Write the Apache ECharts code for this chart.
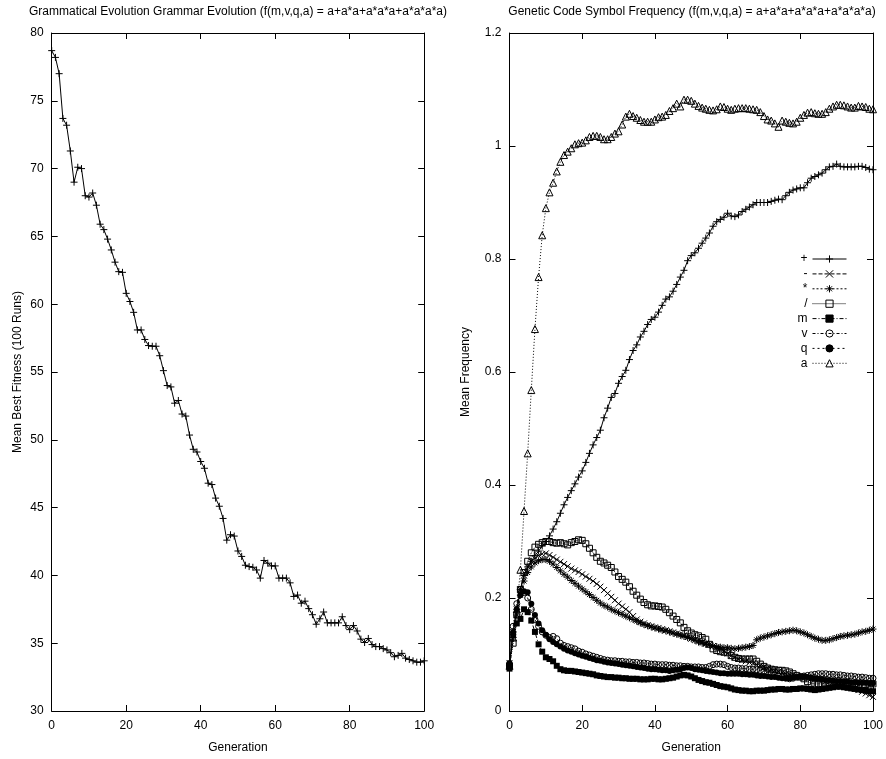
<!DOCTYPE html>
<html>
<head>
<meta charset="utf-8">
<script src="https://cdn.jsdelivr.net/npm/echarts@6/dist/echarts.min.js"></script>
<style>
html,body{margin:0;padding:0;background:#fff;}
#chart{width:886px;height:759px;}
</style>
</head>
<body>
<div id="chart"></div>
<script>
// ---------- DATA ----------
const generations = Array.from({length: 101}, (_, i) => i);

const leftTitle = 'Grammatical Evolution Grammar Evolution (f(m,v,q,a) = a+a*a+a*a*a+a*a*a*a)';
const rightTitle = 'Genetic Code Symbol Frequency (f(m,v,q,a) = a+a*a+a*a*a+a*a*a*a)';

const meanBestFitness = [
 78.7,78.2,77.0,73.7,73.2,71.3,69.0,70.1,70.0,68.0,
 67.9,68.2,67.3,65.9,65.5,64.8,64.0,63.1,62.4,62.35,
 60.8,60.2,59.4,58.1,58.1,57.4,56.95,56.9,56.9,56.2,
 55.1,54.0,53.9,52.7,52.9,51.9,51.75,50.35,49.3,49.1,
 48.4,47.9,46.8,46.7,45.7,45.1,44.2,42.6,43.0,42.9,
 41.8,41.4,40.75,40.65,40.6,40.4,39.8,41.1,40.9,40.7,
 40.7,39.8,39.8,39.8,39.45,38.45,38.55,37.95,38.1,37.55,
 37.1,36.4,36.8,37.3,36.5,36.5,36.5,36.5,36.95,36.3,
 36.0,36.3,35.9,35.3,35.05,35.35,34.9,34.75,34.75,34.6,
 34.5,34.3,34.0,34.1,34.25,33.9,33.8,33.7,33.6,33.6,
 33.7
];

const freqPlus = [
 0.08,0.14,0.18,0.215,0.24,0.255,0.265,0.275,0.283,0.292,
 0.300,0.31,0.322,0.335,0.35,0.365,0.378,0.39,0.402,0.414,
 0.425,0.44,0.456,0.471,0.484,0.497,0.519,0.536,0.555,0.562,
 0.58,0.592,0.603,0.622,0.638,0.648,0.662,0.672,0.684,0.693,
 0.697,0.706,0.718,0.729,0.733,0.743,0.755,0.768,0.78,0.797,
 0.806,0.811,0.819,0.828,0.837,0.846,0.858,0.866,0.87,0.874,
 0.881,0.876,0.875,0.878,0.884,0.888,0.892,0.896,0.9,0.9,
 0.9,0.9,0.902,0.904,0.906,0.905,0.912,0.918,0.922,0.924,
 0.926,0.926,0.935,0.943,0.946,0.949,0.952,0.958,0.963,0.964,
 0.968,0.964,0.963,0.963,0.963,0.963,0.964,0.964,0.962,0.959,
 0.958
];

const freqMinus = [
 0.085,0.14,0.18,0.215,0.24,0.255,0.265,0.27,0.275,0.278,
 0.279,0.276,0.272,0.268,0.264,0.26,0.256,0.252,0.249,0.246,
 0.242,0.238,0.234,0.23,0.225,0.22,0.214,0.208,0.202,0.196,
 0.19,0.185,0.18,0.175,0.168,0.162,0.158,0.155,0.152,0.15,
 0.148,0.147,0.145,0.143,0.141,0.139,0.137,0.136,0.134,0.131,
 0.128,0.126,0.124,0.122,0.12,0.118,0.115,0.112,0.11,0.106,
 0.102,0.098,0.095,0.092,0.09,0.088,0.086,0.084,0.082,0.08,
 0.078,0.076,0.074,0.072,0.07,0.068,0.066,0.065,0.064,0.062,
 0.06,0.059,0.058,0.057,0.056,0.055,0.054,0.053,0.052,0.051,
 0.05,0.048,0.046,0.044,0.042,0.04,0.037,0.034,0.031,0.028,
 0.025
];

const freqStar = [
 0.08,0.13,0.17,0.205,0.23,0.245,0.255,0.262,0.266,0.268,
 0.268,0.265,0.26,0.254,0.248,0.242,0.237,0.231,0.226,0.221,
 0.216,0.211,0.206,0.201,0.196,0.191,0.187,0.184,0.18,0.177,
 0.174,0.171,0.168,0.165,0.162,0.159,0.156,0.153,0.151,0.149,
 0.147,0.145,0.143,0.142,0.14,0.138,0.136,0.134,0.132,0.13,
 0.128,0.125,0.122,0.12,0.118,0.117,0.115,0.114,0.113,0.112,
 0.112,0.111,0.11,0.111,0.112,0.113,0.114,0.116,0.126,0.129,
 0.131,0.133,0.135,0.137,0.139,0.14,0.141,0.142,0.143,0.142,
 0.14,0.138,0.135,0.132,0.129,0.127,0.125,0.125,0.126,0.128,
 0.13,0.132,0.133,0.134,0.135,0.136,0.138,0.14,0.141,0.143,
 0.145
];

const freqSlash = [
 0.08,0.12,0.17,0.215,0.245,0.265,0.28,0.29,0.295,0.298,
 0.3,0.3,0.298,0.297,0.298,0.296,0.294,0.298,0.3,0.303,
 0.302,0.296,0.288,0.28,0.272,0.265,0.262,0.258,0.254,0.246,
 0.238,0.233,0.228,0.22,0.212,0.205,0.198,0.192,0.188,0.186,
 0.186,0.185,0.184,0.18,0.174,0.168,0.162,0.156,0.148,0.142,
 0.138,0.135,0.133,0.13,0.127,0.118,0.11,0.107,0.105,0.104,
 0.103,0.098,0.095,0.093,0.092,0.092,0.092,0.092,0.088,0.083,
 0.079,0.076,0.074,0.073,0.072,0.072,0.071,0.069,0.066,0.063,
 0.06,0.057,0.052,0.049,0.048,0.048,0.048,0.048,0.048,0.048,
 0.048,0.047,0.047,0.046,0.046,0.046,0.045,0.046,0.047,0.048,
 0.048
];

const freqM = [
 0.075,0.135,0.155,0.163,0.18,0.175,0.16,0.14,0.118,0.105,
 0.095,0.092,0.088,0.08,0.074,0.072,0.071,0.071,0.07,0.069,
 0.068,0.067,0.066,0.065,0.063,0.062,0.061,0.06,0.06,0.059,
 0.059,0.058,0.058,0.057,0.057,0.057,0.056,0.056,0.056,0.057,
 0.057,0.056,0.056,0.057,0.058,0.059,0.061,0.063,0.064,0.063,
 0.061,0.058,0.055,0.053,0.051,0.05,0.048,0.046,0.044,0.043,
 0.042,0.04,0.038,0.037,0.036,0.036,0.035,0.035,0.036,0.036,
 0.036,0.037,0.038,0.038,0.039,0.039,0.038,0.038,0.039,0.039,
 0.04,0.04,0.039,0.038,0.037,0.038,0.039,0.04,0.041,0.042,
 0.043,0.043,0.042,0.041,0.04,0.039,0.038,0.037,0.036,0.035,
 0.035
];

const freqV = [
 0.08,0.15,0.19,0.215,0.21,0.2,0.18,0.162,0.15,0.14,
 0.134,0.13,0.132,0.128,0.12,0.116,0.114,0.112,0.11,0.106,
 0.104,0.101,0.099,0.097,0.095,0.093,0.091,0.09,0.089,0.089,
 0.088,0.088,0.087,0.087,0.086,0.086,0.085,0.085,0.084,0.083,
 0.083,0.082,0.082,0.082,0.081,0.081,0.08,0.08,0.079,0.079,
 0.078,0.078,0.078,0.077,0.077,0.079,0.082,0.083,0.083,0.082,
 0.079,0.077,0.076,0.076,0.075,0.075,0.074,0.074,0.073,0.072,
 0.07,0.068,0.066,0.064,0.062,0.06,0.058,0.057,0.058,0.06,
 0.061,0.062,0.063,0.064,0.065,0.066,0.066,0.066,0.065,0.065,
 0.064,0.064,0.063,0.062,0.062,0.061,0.06,0.06,0.059,0.058,
 0.058
];

const freqQ = [
 0.085,0.14,0.18,0.205,0.212,0.21,0.19,0.17,0.155,0.143,
 0.135,0.127,0.122,0.118,0.114,0.11,0.107,0.105,0.102,0.1,
 0.098,0.096,0.094,0.092,0.09,0.089,0.087,0.086,0.085,0.084,
 0.083,0.082,0.081,0.08,0.079,0.078,0.077,0.076,0.075,0.074,
 0.074,0.073,0.072,0.072,0.071,0.072,0.073,0.074,0.076,0.077,
 0.076,0.074,0.073,0.072,0.071,0.07,0.069,0.068,0.067,0.067,
 0.066,0.066,0.066,0.066,0.065,0.065,0.064,0.064,0.063,0.062,
 0.062,0.061,0.06,0.06,0.059,0.058,0.058,0.058,0.059,0.06,
 0.061,0.061,0.06,0.059,0.058,0.057,0.056,0.055,0.055,0.054,
 0.053,0.053,0.052,0.052,0.051,0.051,0.05,0.05,0.05,0.049,
 0.049
];

const freqA = [
 0.08,0.13,0.18,0.25,0.354,0.456,0.568,0.676,0.768,0.842,
 0.89,0.918,0.935,0.955,0.972,0.984,0.99,0.996,1.003,1.005,
 1.006,1.01,1.016,1.018,1.018,1.016,1.012,1.012,1.016,1.022,
 1.026,1.038,1.052,1.057,1.053,1.05,1.046,1.043,1.043,1.043,
 1.047,1.051,1.052,1.055,1.062,1.067,1.075,1.07,1.082,1.082,
 1.08,1.075,1.071,1.068,1.066,1.064,1.063,1.065,1.07,1.069,
 1.066,1.064,1.066,1.067,1.067,1.067,1.066,1.065,1.064,1.06,
 1.053,1.047,1.045,1.04,1.034,1.045,1.043,1.041,1.04,1.043,
 1.05,1.055,1.059,1.06,1.058,1.057,1.057,1.06,1.066,1.07,
 1.073,1.073,1.072,1.07,1.068,1.068,1.071,1.07,1.069,1.066,
 1.065
];

const symbolNames = ['+', '-', '*', '/', 'm', 'v', 'q', 'a'];
const symbolSeries = [freqPlus, freqMinus, freqStar, freqSlash, freqM, freqV, freqQ, freqA];

const fitnessTicks = {min: 30, max: 80, interval: 5};
const freqTicks = {min: 0, max: 1.2, interval: 0.2};
const genTicks = {min: 0, max: 100, interval: 20};

// ---------- STYLES ----------
const FONT = "'Liberation Sans', Arial, Helvetica, sans-serif";
const BLACK = '#000';
const PLUS = 'path://M5,0 L5,10 M0,5 L10,5';
const CROSS = 'path://M0,0 L10,10 M10,0 L0,10';
const STAR = 'path://M5,0 L5,10 M0,5 L10,5 M1.5,1.5 L8.5,8.5 M8.5,1.5 L1.5,8.5';
const SQUARE = 'path://M0,0 L10,0 L10,10 L0,10 Z';
const CIRCLE = 'path://M10,5 A5,5 0 1,1 0,5 A5,5 0 1,1 10,5 Z';
const TRIANGLE = 'path://M5,0 L10,9 L0,9 Z';
const CLEAR = 'rgba(0,0,0,0)';

const markStyles = [
  {symbol: PLUS, size: 7, fill: CLEAR, dash: 'solid'},
  {symbol: CROSS, size: 6, fill: CLEAR, dash: [4, 2]},
  {symbol: STAR, size: 7, fill: CLEAR, dash: [2, 2]},
  {symbol: SQUARE, size: 6, fill: CLEAR, dash: [1, 1]},
  {symbol: 'rect', size: 6, fill: BLACK, dash: [4, 2, 1, 2]},
  {symbol: CIRCLE, size: 6, fill: CLEAR, dash: [3, 2, 1, 2]},
  {symbol: 'circle', size: 6, fill: BLACK, dash: [2, 3]},
  {symbol: TRIANGLE, size: 7, fill: CLEAR, dash: [1, 2]}
];

function axisCommon(extra) {
  return Object.assign({
    type: 'value',
    axisLine: {show: true, onZero: false, lineStyle: {color: BLACK, width: 1}},
    axisTick: {show: true, inside: true, length: 6, lineStyle: {color: BLACK, width: 1}},
    splitLine: {show: false},
    axisLabel: {color: BLACK, fontSize: 12, fontFamily: FONT, margin: 8},
    nameTextStyle: {color: BLACK, fontSize: 12, fontFamily: FONT}
  }, extra);
}

const chart = echarts.init(document.getElementById('chart'), null, {renderer: 'canvas'});

const series = [];
series.push({
  name: 'Mean Best Fitness',
  type: 'line',
  xAxisIndex: 0, yAxisIndex: 0,
  data: generations.map((g, i) => [g, meanBestFitness[i]]),
  symbol: PLUS, symbolSize: 7,
  itemStyle: {color: CLEAR, borderColor: BLACK, borderWidth: 1},
  lineStyle: {color: BLACK, width: 1},
  z: 3
});
symbolNames.forEach((name, k) => {
  const st = markStyles[k];
  series.push({
    name: name,
    type: 'line',
    xAxisIndex: 2, yAxisIndex: 2,
    data: generations.map((g, i) => [g, symbolSeries[k][i]]),
    symbol: st.symbol, symbolSize: st.size,
    itemStyle: {color: st.fill, borderColor: BLACK, borderWidth: st.fill === BLACK ? 0 : 1},
    lineStyle: {color: BLACK, width: 1, type: st.dash},
    z: 3 + k
  });
});

const option = {
  animation: false,
  backgroundColor: '#fff',
  textStyle: {fontFamily: FONT},
  title: [
    {text: leftTitle, left: 238, top: 6, padding: 0, textAlign: 'center',
     textStyle: {fontSize: 12, fontWeight: 'normal', color: BLACK, fontFamily: FONT}},
    {text: rightTitle, left: 692, top: 6, padding: 0, textAlign: 'center',
     textStyle: {fontSize: 12, fontWeight: 'normal', color: BLACK, fontFamily: FONT}}
  ],
  grid: [
    {left: 51.7, top: 33, width: 372.5, height: 679},
    {left: 509.5, top: 33, width: 365, height: 679}
  ],
  xAxis: [
    axisCommon({gridIndex: 0, position: 'bottom', min: genTicks.min, max: genTicks.max, interval: genTicks.interval,
      name: 'Generation', nameLocation: 'middle', nameGap: 31,
      axisLabel: {color: BLACK, fontSize: 12, fontFamily: FONT, margin: 9}}),
    axisCommon({gridIndex: 0, position: 'top', min: genTicks.min, max: genTicks.max, interval: genTicks.interval,
      axisLabel: {show: false}}),
    axisCommon({gridIndex: 1, position: 'bottom', min: genTicks.min, max: genTicks.max, interval: genTicks.interval,
      name: 'Generation', nameLocation: 'middle', nameGap: 31,
      axisLabel: {color: BLACK, fontSize: 12, fontFamily: FONT, margin: 9}}),
    axisCommon({gridIndex: 1, position: 'top', min: genTicks.min, max: genTicks.max, interval: genTicks.interval,
      axisLabel: {show: false}})
  ],
  yAxis: [
    axisCommon({gridIndex: 0, position: 'left', min: fitnessTicks.min, max: fitnessTicks.max, interval: fitnessTicks.interval,
      name: 'Mean Best Fitness (100 Runs)', nameLocation: 'middle', nameGap: 28, nameRotate: 90}),
    axisCommon({gridIndex: 0, position: 'right', min: fitnessTicks.min, max: fitnessTicks.max, interval: fitnessTicks.interval,
      axisLabel: {show: false}}),
    axisCommon({gridIndex: 1, position: 'left', min: freqTicks.min, max: freqTicks.max, interval: freqTicks.interval,
      name: 'Mean Frequency', nameLocation: 'middle', nameGap: 38, nameRotate: 90}),
    axisCommon({gridIndex: 1, position: 'right', min: freqTicks.min, max: freqTicks.max, interval: freqTicks.interval,
      axisLabel: {show: false}})
  ],
  legend: {
    data: symbolNames,
    orient: 'vertical',
    align: 'right',
    right: 39,
    top: 253,
    padding: 0,
    itemGap: 2.9,
    itemWidth: 34,
    itemHeight: 9,
    selectedMode: false,
    textStyle: {color: BLACK, fontSize: 12, fontFamily: FONT, lineHeight: 12},
    itemStyle: {borderWidth: 1},
    lineStyle: {width: 1}
  },
  series: series
};

chart.setOption(option);
</script>
</body>
</html>
